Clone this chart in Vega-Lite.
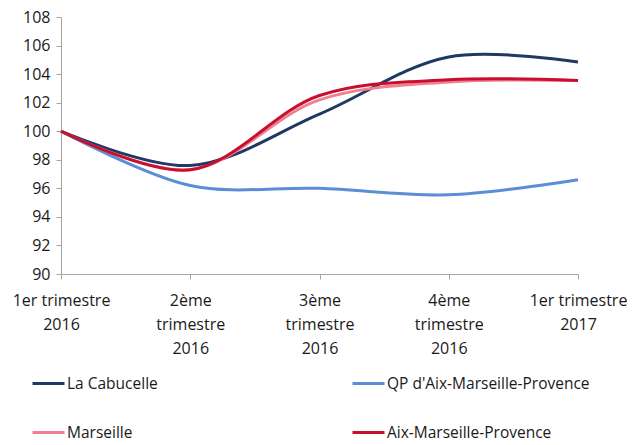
{
  "$schema": "https://vega.github.io/schema/vega-lite/v6.json",
  "width": 517,
  "height": 257,
  "autosize": "none",
  "padding": {"left": 61, "top": 17, "right": 54, "bottom": 171},
  "config": {
    "view": {"stroke": null},
    "font": "Open Sans",
    "axis": {"labelFont": "Open Sans", "labelFontSize": 16, "labelColor": "#1a1a1a", "domainColor": "#a6a6a6", "tickColor": "#a6a6a6", "grid": false, "tickSize": 5},
    "legend": {"labelFont": "Open Sans", "labelFontSize": 15.5, "labelColor": "#1a1a1a", "labelLimit": 400}
  },
  "data": {
    "values": [
      {"q": "1er trimestre|2016", "s": "La Cabucelle", "v": 100},
      {"q": "2ème|trimestre|2016", "s": "La Cabucelle", "v": 97.6},
      {"q": "3ème|trimestre|2016", "s": "La Cabucelle", "v": 101.2},
      {"q": "4ème|trimestre|2016", "s": "La Cabucelle", "v": 105.2},
      {"q": "1er trimestre|2017", "s": "La Cabucelle", "v": 104.85},
      {"q": "1er trimestre|2016", "s": "QP d'Aix-Marseille-Provence", "v": 100},
      {"q": "2ème|trimestre|2016", "s": "QP d'Aix-Marseille-Provence", "v": 96.2},
      {"q": "3ème|trimestre|2016", "s": "QP d'Aix-Marseille-Provence", "v": 96.0},
      {"q": "4ème|trimestre|2016", "s": "QP d'Aix-Marseille-Provence", "v": 95.55},
      {"q": "1er trimestre|2017", "s": "QP d'Aix-Marseille-Provence", "v": 96.6},
      {"q": "1er trimestre|2016", "s": "Marseille", "v": 100},
      {"q": "2ème|trimestre|2016", "s": "Marseille", "v": 97.3},
      {"q": "3ème|trimestre|2016", "s": "Marseille", "v": 102.2},
      {"q": "4ème|trimestre|2016", "s": "Marseille", "v": 103.45},
      {"q": "1er trimestre|2017", "s": "Marseille", "v": 103.55},
      {"q": "1er trimestre|2016", "s": "Aix-Marseille-Provence", "v": 100},
      {"q": "2ème|trimestre|2016", "s": "Aix-Marseille-Provence", "v": 97.3},
      {"q": "3ème|trimestre|2016", "s": "Aix-Marseille-Provence", "v": 102.5},
      {"q": "4ème|trimestre|2016", "s": "Aix-Marseille-Provence", "v": 103.6},
      {"q": "1er trimestre|2017", "s": "Aix-Marseille-Provence", "v": 103.55}
    ]
  },
  "mark": {"type": "line", "interpolate": "catmull-rom", "strokeWidth": 3},
  "encoding": {
    "x": {
      "field": "q", "type": "ordinal", "sort": null,
      "scale": {"type": "point", "padding": 0},
      "axis": {"title": null, "labelAngle": 0, "labelExpr": "split(datum.value, '|')", "labelLineHeight": 24, "labelPadding": 13, "labelBaseline": "top"}
    },
    "y": {
      "field": "v", "type": "quantitative",
      "scale": {"domain": [90, 108], "nice": false, "zero": false},
      "axis": {"title": null, "values": [90, 92, 94, 96, 98, 100, 102, 104, 106, 108], "labelPadding": 6}
    },
    "color": {
      "field": "s", "type": "nominal", "sort": null,
      "scale": {"domain": ["La Cabucelle", "Marseille", "QP d'Aix-Marseille-Provence", "Aix-Marseille-Provence"], "range": ["#1f3864", "#ef7f93", "#5a8fd8", "#c8102e"]},
      "legend": {"title": null, "orient": "none", "legendX": -30, "legendY": 349, "columns": 2, "columnPadding": 188, "rowPadding": 23, "symbolType": "stroke", "symbolSize": 1024, "symbolStrokeWidth": 3, "labelOffset": 1}
    }
  }
}
